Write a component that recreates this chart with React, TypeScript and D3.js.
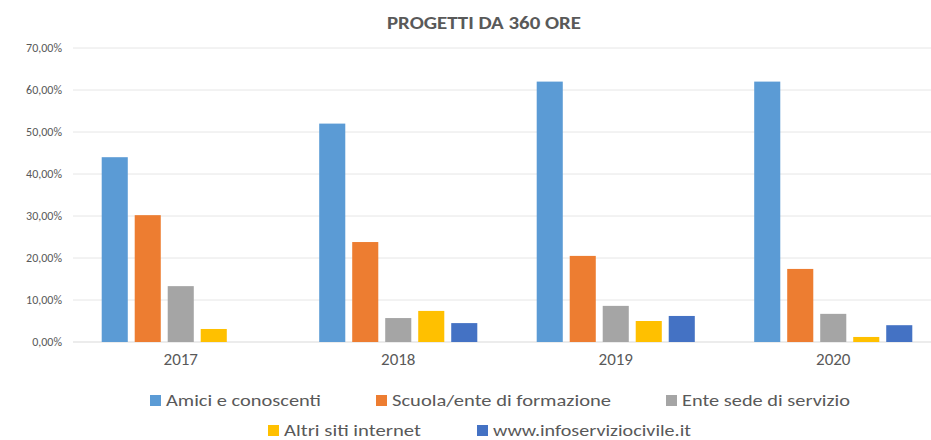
import React from "react";
import * as d3 from "d3";

const years = ["2017", "2018", "2019", "2020"];
const seriesNames = [
  "Amici e conoscenti",
  "Scuola/ente di formazione",
  "Ente sede di servizio",
  "Altri siti internet",
  "www.infoserviziocivile.it",
];
const amici = [0.44, 0.52, 0.62, 0.62];
const scuola = [0.302, 0.238, 0.205, 0.174];
const ente = [0.133, 0.057, 0.086, 0.067];
const altri = [0.031, 0.074, 0.05, 0.012];
const info = [null, 0.045, 0.062, 0.04];
const seriesValues = [amici, scuola, ente, altri, info];
const colors = ["#5B9BD5", "#ED7D31", "#A5A5A5", "#FFC000", "#4472C4"];
const yTicks = [0, 0.1, 0.2, 0.3, 0.4, 0.5, 0.6, 0.7];

const W = 931;
const H = 440;
const FONT = "Carlito, Calibri, Lato, sans-serif";

// legend layout: swatch position and text width per entry
const legendLayout = [
  { y: 401, x: 150, w: 155 },
  { y: 401, x: 376, w: 219 },
  { y: 401, x: 666, w: 168 },
  { y: 431, x: 268, w: 137 },
  { y: 431, x: 477, w: 198 },
];

export default function App() {
  const x0 = d3.scaleBand<string>().domain(years).range([72, 942]).padding(0);
  const x1 = d3
    .scaleBand<string>()
    .domain(seriesNames)
    .range([0, x0.bandwidth()])
    .paddingInner(0.21)
    .paddingOuter(0.9);
  const y = d3.scaleLinear().domain([0, 0.7]).range([342, 48]);
  const fmt = (v: number) => (v * 100).toFixed(2).replace(".", ",") + "%";

  return (
    <svg
      width={W}
      height={H}
      style={{ position: "absolute", left: 0, top: 0, background: "#fff", overflow: "hidden" }}
    >
      <text
        x={484}
        y={29}
        textAnchor="middle"
        fontFamily={FONT}
        fontWeight="bold"
        fontSize={19}
        fill="#595959"
        textLength={194}
        lengthAdjust="spacingAndGlyphs"
      >
        PROGETTI DA 360 ORE
      </text>
      {yTicks.map((t) => (
        <g key={t}>
          <line
            x1={73}
            x2={W}
            y1={y(t)}
            y2={y(t)}
            stroke={t === 0 ? "#D9D9D9" : "#E6E6E6"}
            strokeWidth={1}
          />
          <text
            x={62}
            y={y(t) + 4}
            textAnchor="end"
            fontFamily={FONT}
            fontSize={12}
            fill="#595959"
          >
            {fmt(t)}
          </text>
        </g>
      ))}
      {years.map((yr, i) => (
        <g key={yr} transform={`translate(${x0(yr)},0)`}>
          {seriesNames.map((s, j) => {
            const v = seriesValues[j][i];
            if (v == null) return null;
            return (
              <rect
                key={s}
                x={x1(s)}
                y={y(v)}
                width={x1.bandwidth()}
                height={y(0) - y(v)}
                fill={colors[j]}
              />
            );
          })}
          <text
            x={x0.bandwidth() / 2}
            y={365}
            textAnchor="middle"
            fontFamily={FONT}
            fontSize={17}
            fill="#595959"
          >
            {yr}
          </text>
        </g>
      ))}
      {seriesNames.map((s, j) => (
        <g key={s}>
          <rect
            x={legendLayout[j].x}
            y={legendLayout[j].y - 6}
            width={11}
            height={11}
            fill={colors[j]}
          />
          <text
            x={legendLayout[j].x + 16}
            y={legendLayout[j].y + 5}
            fontFamily={FONT}
            fontSize={17}
            fill="#595959"
            textLength={legendLayout[j].w}
            lengthAdjust="spacingAndGlyphs"
          >
            {s}
          </text>
        </g>
      ))}
    </svg>
  );
}
